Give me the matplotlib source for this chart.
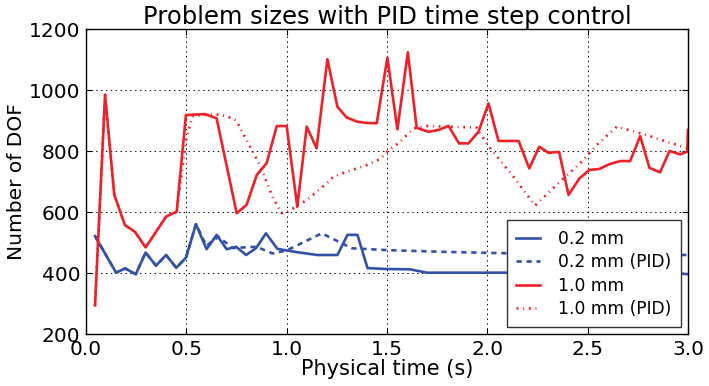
import matplotlib
matplotlib.use("Agg")
import matplotlib.pyplot as plt

# Problem size (number of DOF) over physical time for two mesh sizes,
# with fixed and PID-controlled time stepping.
t_02 = [0.045, 0.15, 0.195, 0.248, 0.297, 0.349, 0.399, 0.45, 0.498, 0.548,
        0.601, 0.651, 0.701, 0.748, 0.798, 0.847, 0.897, 0.954, 1.0, 1.053,
        1.153, 1.253, 1.303, 1.353, 1.403, 1.5, 1.615, 1.698, 2.0, 2.5, 2.95, 3.0]
dof_02 = [522, 402, 416, 397, 468, 425, 460, 418, 451, 561,
          479, 526, 479, 487, 460, 482, 531, 480, 475, 469,
          460, 460, 526, 526, 417, 414, 413, 402, 402, 402, 400, 397]

t_02_pid = [0.045, 0.15, 0.195, 0.248, 0.297, 0.349, 0.399, 0.45, 0.498, 0.548,
            0.6, 0.66, 0.73, 0.85, 0.93, 1.0, 1.175, 1.325, 1.5, 1.8, 2.0,
            2.4, 3.0]
dof_02_pid = [522, 402, 416, 397, 468, 425, 460, 418, 451, 561,
              490, 520, 483, 487, 465, 475, 531, 482, 476, 470, 467,
              462, 460]

t_10 = [0.045, 0.095, 0.141, 0.194, 0.244, 0.297, 0.349, 0.399, 0.452, 0.498,
        0.593, 0.651, 0.751, 0.8, 0.851, 0.9, 0.951, 1.0, 1.053, 1.1,
        1.149, 1.203, 1.253, 1.299, 1.353, 1.4, 1.449, 1.502, 1.552, 1.604,
        1.648, 1.707, 1.757, 1.807, 1.859, 1.906, 1.956, 2.006, 2.056, 2.156,
        2.209, 2.259, 2.305, 2.358, 2.405, 2.459, 2.509, 2.558, 2.609, 2.662,
        2.712, 2.762, 2.808, 2.861, 2.908, 2.961, 2.997, 3.0]
dof_10 = [295, 985, 657, 558, 536, 485, 536, 586, 602, 919,
          922, 908, 597, 624, 722, 761, 883, 883, 618, 881,
          810, 1102, 946, 911, 897, 893, 892, 1107, 872, 1125,
          877, 864, 870, 883, 826, 826, 864, 957, 834, 834,
          744, 815, 795, 798, 657, 711, 739, 742, 758, 768,
          768, 850, 746, 731, 801, 790, 799, 870]

t_10_pid = [0.045, 0.095, 0.141, 0.194, 0.244, 0.297, 0.349, 0.399, 0.452, 0.5,
            0.53, 0.64, 0.7, 0.75, 0.8, 0.87, 0.93, 0.975, 1.0, 1.1,
            1.2, 1.233, 1.3, 1.4, 1.466, 1.508, 1.557, 1.632, 1.698, 1.946,
            2.006, 2.13, 2.238, 2.371, 2.463, 2.546, 2.646, 2.795, 2.911, 3.0]
dof_10_pid = [295, 985, 657, 558, 536, 485, 536, 586, 602, 840,
              915, 922, 916, 900, 837, 750, 650, 597, 600, 640,
              695, 717, 733, 755, 775, 804, 826, 875, 883, 878,
              817, 717, 622, 706, 761, 821, 881, 853, 828, 810]

x_ticks = [0.0, 0.5, 1.0, 1.5, 2.0, 2.5, 3.0]
y_ticks = [200, 400, 600, 800, 1000, 1200]

BLUE = "#3352a6"
RED = "#ee2028"

plt.rcParams["font.family"] = ["DejaVu Sans"]
plt.rcParams["lines.scale_dashes"] = False

fig = plt.figure(figsize=(7.09, 3.86), dpi=100)
ax = fig.add_axes([0.1213, 0.134, 0.849, 0.790])

lw = 1.9
ax.plot(t_02, dof_02, color=BLUE, lw=lw, label="0.2 mm")
ax.plot(t_02_pid, dof_02_pid, color=BLUE, lw=lw, dashes=(3.8, 3.4),
        label="0.2 mm (PID)")
ax.plot(t_10, dof_10, color=RED, lw=lw, label="1.0 mm")
ax.plot(t_10_pid, dof_10_pid, color=RED, lw=lw, dashes=(1.4, 3.4, 0.7, 3.4),
        label="1.0 mm (PID)")

ax.set_xlim(0, 3.0)
ax.set_ylim(200, 1200)
ax.set_xticks(x_ticks)
ax.set_yticks(y_ticks)
ax.tick_params(direction="in", top=True, right=True, labelsize=14.5,
               length=4, width=0.8, pad=4)
ax.grid(True, color="black", linestyle=(0, (1, 2.5)), linewidth=0.7)
for s in ax.spines.values():
    s.set_linewidth(1.0)

ax.set_title("Problem sizes with PID time step control", fontsize=17.5, pad=4)
ax.set_xlabel("Physical time (s)", fontsize=15, labelpad=0)
ax.set_ylabel("Number of DOF", fontsize=14.5, labelpad=2)

leg = ax.legend(loc="lower right", fontsize=12.3, fancybox=False,
                framealpha=1.0, edgecolor="#333333", handlelength=1.35,
                handletextpad=1.1, borderaxespad=0.4, borderpad=0.55,
                labelspacing=0.32)
leg.get_frame().set_linewidth(1.0)

fig.savefig("out.png", dpi=100)
